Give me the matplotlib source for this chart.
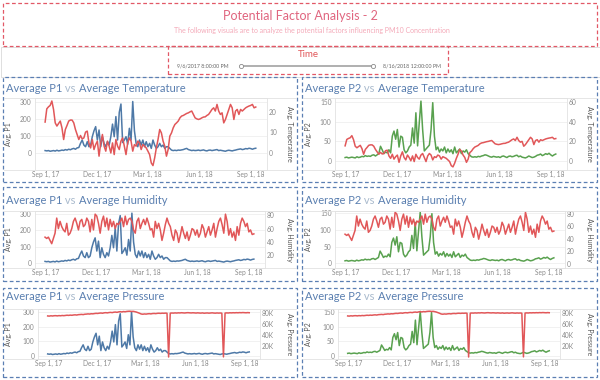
import matplotlib.pyplot as plt
import pandas as pd
from matplotlib.lines import Line2D
from matplotlib.patches import Rectangle
from matplotlib.ticker import FuncFormatter

plt.rcParams['font.family'] = ['Lato', 'DejaVu Sans']

W, H = 600, 380

# one reading every third day, Aug 31 2017 .. Sep 10 2018
dates = pd.date_range('2017-08-31', periods=126, freq='3D')

p1 = [12, 10, 12, 8, 10, 12, 9, 14, 10, 12,
      15, 13, 18, 15, 20, 17, 22, 25, 20, 28,
      30, 55, 75, 45, 35, 65, 35, 45, 95, 130,
      155, 75, 135, 35, 95, 55, 35, 65, 45, 95,
      170, 95, 215, 75, 240, 290, 60, 75, 95, 50,
      145, 75, 305, 130, 55, 35, 75, 45, 75, 35,
      65, 35, 55, 25, 75, 45, 25, 35, 55, 35,
      45, 25, 35, 35, 25, 15, 12, 14, 12, 15,
      14, 16, 18, 22, 25, 18, 15, 12, 14, 12,
      13, 15, 12, 14, 16, 12, 10, 14, 15, 12,
      14, 16, 18, 12, 14, 12, 10, 8, 12, 14,
      12, 10, 13, 15, 18, 20, 22, 18, 20, 24,
      22, 26, 24, 20, 24, 26]

p2 = [8, 9, 7, 8, 9, 8, 7, 10, 8, 9,
      11, 10, 13, 11, 12, 11, 14, 15, 12, 15,
      18, 37, 28, 18, 22, 20, 28, 20, 63, 76,
      55, 80, 35, 63, 60, 28, 20, 25, 35, 40,
      84, 45, 123, 38, 97, 153, 80, 25, 30, 35,
      40, 80, 149, 63, 28, 35, 22, 30, 25, 35,
      20, 30, 22, 28, 18, 35, 20, 25, 30, 18,
      25, 22, 28, 18, 14, 10, 9, 10, 9, 11,
      10, 12, 13, 15, 14, 12, 10, 9, 11, 10,
      9, 10, 8, 11, 12, 10, 8, 11, 12, 10,
      11, 13, 14, 10, 12, 9, 8, 7, 9, 12,
      10, 8, 9, 11, 14, 15, 17, 13, 15, 18,
      16, 19, 15, 12, 15, 17]

temperature = [15.2, 21.8, 22.8, 23.5, 25.7, 21.5, 14.8, 13.2, 14.5, 15.7,
               12.3, 6.5, 11.5, 13.5, 15.7, 16.2, 16.2, 14.8, 11.5, 9.0,
               6.5, 8.5, 6.8, 7.3, 10.2, 10.7, 4.8, 2.3, 6.5, 1.5,
               4.0, 5.7, -1.8, 4.8, 9.0, 3.2, 0.7, 5.7, 3.2, -0.2,
               4.8, -1.0, 6.5, 3.2, 1.5, 5.7, 7.3, 3.2, -1.0, 4.8,
               7.3, 5.7, 0.7, 4.0, 3.2, 5.7, 4.8, 1.5, 4.0, 3.2,
               2.3, 0.7, -1.0, -5.2, -6.5, -2.7, 2.3, 6.5, 11.5, 9.8,
               5.7, 3.2, -1.8, 1.5, 8.2, 9.8, 12.3, 14.0, 14.8, 15.7,
               17.3, 18.2, 18.5, 19.0, 19.5, 19.8, 20.3, 20.7, 19.0, 17.3,
               16.8, 16.5, 16.8, 17.3, 17.7, 17.8, 18.5, 19.0, 20.2, 21.5,
               22.3, 20.7, 24.0, 20.7, 19.0, 19.8, 14.8, 16.5, 19.0, 21.5,
               24.0, 22.3, 16.5, 20.7, 21.5, 19.0, 21.5, 20.7, 21.5, 22.3,
               22.8, 23.2, 23.5, 24.0, 22.3, 22.7]

humidity = [47, 45, 47, 42, 37, 45, 53, 76, 60, 71,
            63, 58, 55, 68, 50, 53, 60, 71, 76, 68,
            58, 71, 74, 63, 66, 76, 71, 55, 74, 58,
            82, 79, 68, 53, 71, 79, 63, 76, 58, 74,
            63, 71, 60, 68, 66, 71, 76, 63, 79, 66,
            74, 76, 71, 58, 53, 71, 76, 60, 68, 74,
            66, 76, 68, 58, 60, 47, 71, 60, 68, 58,
            42, 53, 66, 76, 68, 63, 50, 42, 58, 53,
            39, 50, 63, 53, 45, 55, 42, 50, 60, 58,
            50, 58, 47, 53, 66, 60, 47, 55, 63, 50,
            58, 68, 47, 60, 71, 76, 66, 53, 82, 71,
            50, 60, 47, 55, 42, 63, 50, 68, 76, 71,
            63, 68, 55, 58, 51, 52]

pressure = [74500, 74200, 74800, 74400, 74900, 75000, 74600, 75100, 74800, 75300,
            75000, 75400, 75800, 75500, 76000, 75700, 76200, 76500, 76100, 76800,
            77000, 77300, 76900, 77600, 77800, 78200, 77900, 78500, 78300, 78800,
            79200, 79000, 79500, 79800, 79400, 80100, 80400, 80000, 80600, 80900,
            80500, 81200, 81500, 81000, 81800, 82200, 81700, 82400, 82000, 82600,
            82900, 83000, 82500, 82800, 82200, 81500, 80400, 79300, 78000, 77600,
            78100, 77800, 78300, 78600, 78200, 78800, 79000, 78700, 79200, 79400,
            79100, 79500, 79300, 79600, 79400, 600, 79500, 79800, 79600, 80000,
            79700, 80100, 79900, 80300, 80000, 79800, 80200, 80400, 80100, 79900,
            80200, 80000, 79700, 80100, 79800, 79600, 80000, 79400, 79700, 79900,
            79500, 79800, 80100, 79700, 79500, 79900, 79600, 79800, 79500, 800,
            79700, 80000, 79800, 80200, 80000, 80300, 80100, 80400, 80200, 80500,
            80300, 80600, 80400, 80200, 80500, 80300]

date_ticks = pd.to_datetime(['2017-09-01', '2017-12-01', '2018-03-01',
                             '2018-06-01', '2018-09-01'])
date_labels = ['Sep 1, 17', 'Dec 1, 17', 'Mar 1, 18', 'Jun 1, 18', 'Sep 1, 18']

BLUE, RED, GREEN = '#4e79a7', '#e15759', '#59a14f'
BOX_BLUE, BOX_RED = '#5b7fb3', '#e25867'
TITLE_BLUE, VS_GRAY = '#5a7fb0', '#a9bacd'
LINE_GRAY = '#e2e2e2'

pollutants = {'P1': (p1, BLUE), 'P2': (p2, GREEN)}
factors = {'Temperature': temperature, 'Humidity': humidity, 'Pressure': pressure}

# box, plot area (pixels), title y, left limits/ticks, right limits/ticks
panels = [
    ('P1', 'Temperature', (3, 77, 297, 182), (35, 98, 267, 170), 88,
     (-104, 326), [0, 100, 200, 300], (-8.7, 27.2), [0, 10, 20]),
    ('P2', 'Temperature', (302, 77, 597, 182), (335, 98, 567, 170), 88,
     (-24, 161), [0, 50, 100, 150], (-9.7, 64.5), [0, 20, 40, 60]),
    ('P1', 'Humidity', (3, 187, 297, 281), (35, 211, 265, 268), 200,
     (-28, 318), [0, 100, 200, 300], (0, 86.8), [20, 40, 60, 80]),
    ('P2', 'Humidity', (302, 187, 597, 281), (335, 211, 565, 268), 200,
     (-13.5, 157), [0, 50, 100, 150], (-7, 84), [0, 20, 40, 60, 80]),
    ('P1', 'Pressure', (3, 288, 297, 377), (38, 309, 260, 359), 297,
     (-23, 323), [0, 100, 200, 300], (-3000, 87000), [20000, 40000, 60000, 80000]),
    ('P2', 'Pressure', (302, 288, 597, 377), (338, 309, 560, 359), 297,
     (-11.5, 161.5), [0, 50, 100, 150], (-3000, 87000), [20000, 40000, 60000, 80000]),
]


def fx(x):
    return x / W


def fy(y):
    return 1 - y / H


def dashed_box(fig, x0, y0, x1, y1, color):
    fig.add_artist(Rectangle((fx(x0), fy(y1)), (x1 - x0) / W, (y1 - y0) / H,
                             transform=fig.transFigure, fill=False, ec=color,
                             lw=0.9, ls=(0, (3, 2))))


def hline(fig, x0, x1, y, color=LINE_GRAY, lw=0.6):
    fig.add_artist(Line2D([fx(x0), fx(x1)], [fy(y), fy(y)], color=color, lw=lw))


fig = plt.figure(figsize=(6, 3.8), dpi=100)

# header
fig.add_artist(Rectangle((fx(0.5), fy(76.5)), 599 / W, 29.5 / H, transform=fig.transFigure,
                         fill=False, ec='#d9d9d9', lw=0.6))
dashed_box(fig, 3, 3, 597, 46, BOX_RED)
fig.text(0.5, fy(16.5), 'Potential Factor Analysis - 2', color='#e0657f',
         fontsize=9, ha='center', va='center')
fig.text(0.52, fy(30.5),
         'The following visuals are to analyze the potential factors influencing PM10 Concentration',
         color='#f4a9b8', fontsize=5, ha='center', va='center')
dashed_box(fig, 168, 46, 448, 74, BOX_RED)
fig.text(fx(308), fy(54.5), 'Time', color=RED, fontsize=7, ha='center', va='center')
fig.text(fx(203), fy(65.5), '9/6/2017 8:00:00 PM', color='#666666', fontsize=3.8,
         ha='center', va='center')
fig.text(fx(412), fy(65.5), '8/16/2018 12:00:00 PM', color='#666666', fontsize=3.8,
         ha='center', va='center')
fig.add_artist(Line2D([fx(241), fx(373)], [fy(65.5), fy(65.5)], color='#9a9a9a', lw=1.1,
                      marker='o', ms=3, mfc='white', mec='#8a8a8a', mew=0.6))

for pm, factor, box, plot, ty, pm_lim, pm_ticks, f_lim, f_ticks in panels:
    pm_vals, pm_color = pollutants[pm]
    bx0, by0, bx1, by1 = box
    px0, py0, px1, py1 = plot

    dashed_box(fig, *box, BOX_BLUE)
    hline(fig, bx0 + 1, bx1 - 1, py0)
    hline(fig, bx0 + 1, bx1 - 1, py1)

    ax = fig.add_axes([fx(px0), fy(py1), (px1 - px0) / W, (py1 - py0) / H])
    ax.plot(dates, pm_vals, color=pm_color, lw=1.1)
    ax.set_ylim(*pm_lim)
    ax.set_yticks(pm_ticks)
    ax.yaxis.grid(True, color='#efefef', lw=0.6)
    ax.set_axisbelow(True)
    ax.set_xlim(dates[0] - pd.Timedelta(days=18), dates[-1] + pd.Timedelta(days=20))
    ax.set_xticks(date_ticks)
    ax.set_xticklabels(date_labels)
    for s in ax.spines.values():
        s.set_color(LINE_GRAY)
        s.set_linewidth(0.6)
    ax.tick_params(length=0, labelsize=4.8, labelcolor='#8a8a8a')
    ax.tick_params(axis='y', pad=2.5)
    ax.tick_params(axis='x', pad=0.8)

    ax2 = ax.twinx()
    ax2.plot(dates, factors[factor], color=RED, lw=1.1)
    ax2.set_ylim(*f_lim)
    ax2.set_yticks(f_ticks)
    if factor == 'Pressure':
        ax2.yaxis.set_major_formatter(FuncFormatter(lambda v, _: f'{v / 1000:.0f}K'))
    for s in ax2.spines.values():
        s.set_visible(False)
    ax2.tick_params(length=0, labelsize=4.8, labelcolor='#8a8a8a', pad=1.5)

    ymid = fy((py0 + py1) / 2)
    fig.text(fx(bx0 + 6), ymid, f'Avg. {pm}', rotation=90, fontsize=5,
             color='#555555', ha='center', va='center')
    fig.text(fx(bx1 - 7), ymid, f'Avg. {factor}', rotation=270, fontsize=5,
             color='#555555', ha='center', va='center')

    t1 = fig.text(fx(bx0 + 3), fy(ty), f'Average {pm}', fontsize=8,
                  color=TITLE_BLUE, ha='left', va='center')
    t2 = ax.annotate(' vs ', xy=(1, 0), xycoords=t1, va='bottom', ha='left',
                     fontsize=8, color=VS_GRAY)
    ax.annotate(f'Average {factor}', xy=(1, 0), xycoords=t2, va='bottom', ha='left',
                fontsize=8, color=TITLE_BLUE)

fig.savefig('out.png', dpi=100, facecolor='white')
